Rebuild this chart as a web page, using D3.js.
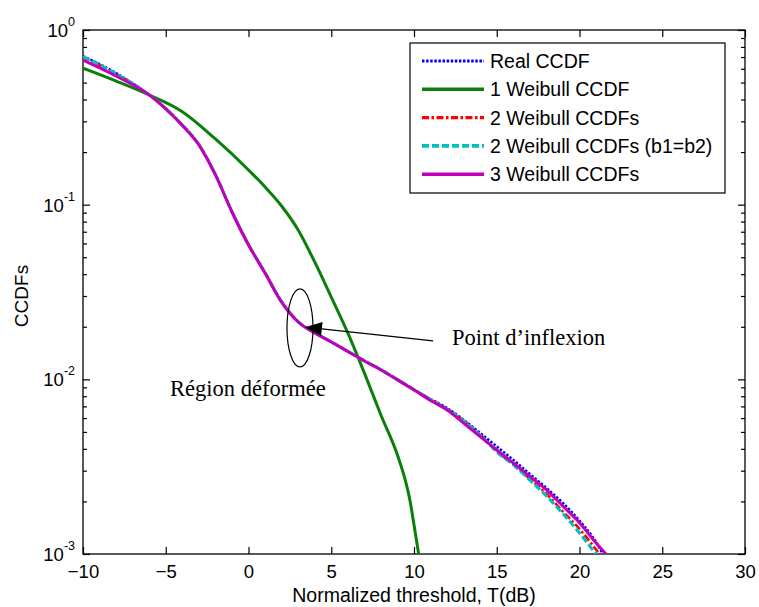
<!DOCTYPE html>
<html>
<head>
<meta charset="utf-8">
<script src="https://cdn.jsdelivr.net/npm/d3@7"></script>
<style>
body { margin: 0; background: #fff; }
svg { display: block; }
</style>
</head>
<body>
<div id="vis"></div>
<script>
const margin = { top: 30, right: 14, bottom: 53, left: 83 };
const width = 759 - margin.left - margin.right;
const height = 607 - margin.top - margin.bottom;

// thresholds in dB, shared grid for the 4 "close" curves
const gridDb = [-10, -8, -6, -5, -4, -3, -2, -1, 0, 1, 2, 3, 4, 5, 6, 7, 8, 9, 10,
    11, 12, 13, 14, 15, 16, 17, 18, 19, 20, 21];

const realCcdf = [0.71, 0.567, 0.425, 0.356, 0.286, 0.221, 0.149, 0.0912, 0.059, 0.0407,
    0.0278, 0.0214, 0.0185, 0.0164, 0.01447, 0.01278, 0.01137, 0.00998, 0.00874,
    0.00772, 0.00686, 0.00586, 0.00493, 0.00413, 0.00346, 0.00287, 0.00239, 0.00196, 0.00155, 0.00117];
const weibull2 = [0.70, 0.56, 0.425, 0.355, 0.286, 0.221, 0.149, 0.0912, 0.059, 0.0407,
    0.0278, 0.0214, 0.0185, 0.0164, 0.01447, 0.01278, 0.01137, 0.00998, 0.00874,
    0.00768, 0.00678, 0.0058, 0.00483, 0.00388, 0.00326, 0.00269, 0.00221, 0.00175, 0.00139, 0.00106];
const weibull2Eq = [0.705, 0.563, 0.425, 0.355, 0.286, 0.221, 0.149, 0.0912, 0.059, 0.0407,
    0.0278, 0.0214, 0.0185, 0.0164, 0.01447, 0.01278, 0.01137, 0.00998, 0.00874,
    0.00765, 0.00675, 0.00578, 0.0048, 0.00384, 0.00324, 0.00265, 0.00215, 0.0017, 0.00132, 0.00101];
const weibull3 = [0.673, 0.545, 0.425, 0.353, 0.284, 0.2197, 0.148, 0.0908, 0.0588, 0.0406,
    0.0277, 0.0213, 0.01844, 0.01637, 0.01444, 0.01274, 0.01132, 0.00993, 0.00869,
    0.00757, 0.00668, 0.00562, 0.0047, 0.00394, 0.00332, 0.00278, 0.00233, 0.00188, 0.00151, 0.001157];
// where each of those curves reaches 1e-3: real, 2W, 2W(b1=b2), 3W
const endDb = [21.4, 21.2, 21.05, 21.6];

// single Weibull fit has its own grid
const weibull1Db = [-10, -8, -6, -4, -2, 0, 1, 2, 3, 4, 5, 6, 7, 8, 9, 9.5, 9.75, 10, 10.3];
const weibull1 = [0.604, 0.51, 0.4245, 0.3405, 0.2377, 0.158, 0.1263, 0.0983, 0.0716, 0.047,
    0.0296, 0.01844, 0.01088, 0.00625, 0.00369, 0.00259, 0.00204, 0.00147, 0.000975];

const legendNames = ["Real CCDF", "1 Weibull CCDF", "2 Weibull CCDFs", "2 Weibull CCDFs (b1=b2)", "3 Weibull CCDFs"];
const xTicks = [-10, -5, 0, 5, 10, 15, 20, 25, 30];
const yMajor = [1, 0.1, 0.01, 0.001];
const yExp = ["0", "-1", "-2", "-3"];

const sans = "Arial, 'Liberation Sans', sans-serif";
const serif = "'Times New Roman', 'Liberation Serif', serif";

const withEnd = (vals, e) => gridDb.map((t, i) => [t, vals[i]]).concat([[e, 0.001]]);

const series = [
    { name: legendNames[0], pts: withEnd(realCcdf, endDb[0]), color: "#0000ff", w: 2.4, dash: "2.5,1.6" },
    { name: legendNames[1], pts: weibull1Db.map((t, i) => [t, weibull1[i]]), color: "#0b7f0b", w: 3, dash: null },
    { name: legendNames[2], pts: withEnd(weibull2, endDb[1]), color: "#ff0000", w: 2.6, dash: "7,2.5,2.5,2.5" },
    { name: legendNames[3], pts: withEnd(weibull2Eq, endDb[2]), color: "#00bfbf", w: 3, dash: "7,3" },
    { name: legendNames[4], pts: withEnd(weibull3, endDb[3]), color: "#bf00bf", w: 3, dash: null }
];

const svg = d3.select("#vis")
    .append("svg")
    .attr("width", width + margin.left + margin.right)
    .attr("height", height + margin.top + margin.bottom)
    .append("g")
    .attr("transform", `translate(${margin.left},${margin.top})`);

const xScale = d3.scaleLinear()
    .domain([-10, 30])
    .range([0, width]);

const yScale = d3.scaleLog()
    .domain([1e-3, 1])
    .range([height, 0]);

svg.append("clipPath")
    .attr("id", "plotClip")
    .append("rect")
    .attr("width", width)
    .attr("height", height);

// minor ticks for the log axis
const yMinor = [];
[0.001, 0.01, 0.1].forEach(b => d3.range(2, 10).forEach(k => yMinor.push(b * k)));

function styleAxis(g) {
    g.select(".domain").remove();
    g.selectAll(".tick line").attr("stroke", "#000").attr("stroke-width", 1.2);
}

svg.append("g")
    .attr("transform", `translate(0,${height})`)
    .call(d3.axisBottom(xScale).tickValues(xTicks).tickSize(-7).tickPadding(11))
    .call(styleAxis)
    .selectAll("text")
    .style("font-family", sans)
    .style("font-size", "18.5px")
    .attr("fill", "#000");

svg.append("g")
    .call(d3.axisTop(xScale).tickValues(xTicks).tickSize(-7).tickFormat(""))
    .call(styleAxis);

svg.append("g")
    .call(d3.axisLeft(yScale).tickValues(yMajor).tickSize(-7).tickFormat(""))
    .call(styleAxis);
svg.append("g")
    .call(d3.axisLeft(yScale).tickValues(yMinor).tickSize(-4).tickFormat(""))
    .call(styleAxis);
svg.append("g")
    .attr("transform", `translate(${width},0)`)
    .call(d3.axisRight(yScale).tickValues(yMajor).tickSize(-7).tickFormat(""))
    .call(styleAxis);
svg.append("g")
    .attr("transform", `translate(${width},0)`)
    .call(d3.axisRight(yScale).tickValues(yMinor).tickSize(-4).tickFormat(""))
    .call(styleAxis);

// y labels as 10^k
const yLab = svg.selectAll(".ylab")
    .data(yMajor)
    .enter()
    .append("text")
    .attr("class", "ylab")
    .attr("x", -8)
    .attr("y", d => yScale(d) + 7)
    .attr("text-anchor", "end")
    .style("font-family", sans)
    .style("font-size", "18.5px");
yLab.append("tspan").text("10");
yLab.append("tspan")
    .attr("dy", -11)
    .style("font-size", "12.5px")
    .text((d, i) => yExp[i]);

svg.append("rect")
    .attr("width", width)
    .attr("height", height)
    .attr("fill", "none")
    .attr("stroke", "#000")
    .attr("stroke-width", 1.3);

const line = d3.line()
    .x(d => xScale(d[0]))
    .y(d => yScale(d[1]))
    .curve(d3.curveMonotoneX);

svg.append("g")
    .attr("clip-path", "url(#plotClip)")
    .selectAll("path")
    .data(series)
    .enter()
    .append("path")
    .attr("d", d => line(d.pts))
    .attr("fill", "none")
    .attr("stroke", d => d.color)
    .attr("stroke-width", d => d.w)
    .attr("stroke-dasharray", d => d.dash);

// legend
const legend = svg.append("g")
    .attr("transform", "translate(327,13)");

legend.append("rect")
    .attr("width", 315)
    .attr("height", 150)
    .attr("fill", "#fff")
    .attr("stroke", "#000")
    .attr("stroke-width", 1.2);

const item = legend.selectAll(".item")
    .data(series)
    .enter()
    .append("g")
    .attr("transform", (d, i) => `translate(0,${18 + i * 28.3})`);

item.append("line")
    .attr("x1", 12)
    .attr("x2", 74)
    .attr("stroke", d => d.color)
    .attr("stroke-width", d => d.w + 0.6)
    .attr("stroke-dasharray", d => d.dash);

item.append("text")
    .attr("x", 80)
    .attr("dy", "0.36em")
    .style("font-family", sans)
    .style("font-size", "19.5px")
    .text(d => d.name);

// axis titles
svg.append("text")
    .attr("x", width / 2)
    .attr("y", height + 48)
    .attr("text-anchor", "middle")
    .style("font-family", sans)
    .style("font-size", "19.5px")
    .text("Normalized threshold, T(dB)");

svg.append("text")
    .attr("transform", "rotate(-90)")
    .attr("x", -(296 - margin.top))
    .attr("y", -55)
    .attr("text-anchor", "middle")
    .style("font-family", sans)
    .style("font-size", "19px")
    .text("CCDFs");

// annotations
svg.append("ellipse")
    .attr("cx", xScale(3.11))
    .attr("cy", yScale(0.0197))
    .attr("rx", 13)
    .attr("ry", 39)
    .attr("fill", "none")
    .attr("stroke", "#000")
    .attr("stroke-width", 1.2);

const tip = [xScale(3.41), yScale(0.0199)];
const tail = [xScale(11.15), yScale(0.0166)];
const len = Math.hypot(tail[0] - tip[0], tail[1] - tip[1]);
const ux = (tail[0] - tip[0]) / len, uy = (tail[1] - tip[1]) / len;
const base = [tip[0] + ux * 17, tip[1] + uy * 17];

svg.append("line")
    .attr("x1", base[0])
    .attr("y1", base[1])
    .attr("x2", tail[0])
    .attr("y2", tail[1])
    .attr("stroke", "#000")
    .attr("stroke-width", 1.3);

svg.append("path")
    .attr("d", `M${tip[0]},${tip[1]}L${base[0] - uy * 7},${base[1] + ux * 7}L${base[0] + uy * 7},${base[1] - ux * 7}Z`)
    .attr("fill", "#000");

svg.append("text")
    .attr("x", xScale(12.3))
    .attr("y", yScale(0.01574))
    .style("font-family", serif)
    .style("font-size", "22.5px")
    .text("Point d’inflexion");

svg.append("text")
    .attr("x", xScale(-4.74))
    .attr("y", yScale(0.00803))
    .style("font-family", serif)
    .style("font-size", "22.5px")
    .text("Région déformée");
</script>
</body>
</html>
